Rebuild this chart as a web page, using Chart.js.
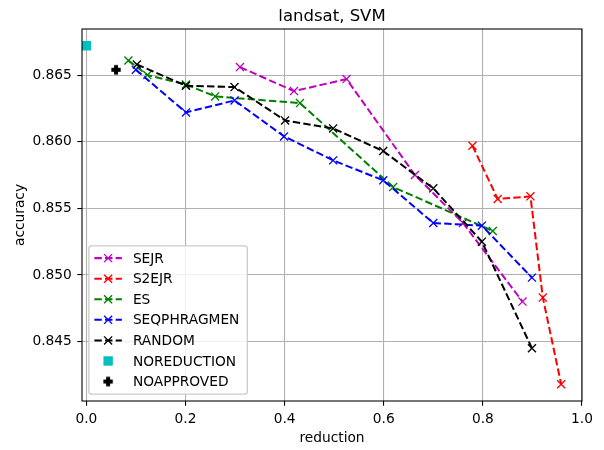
<!DOCTYPE html>
<html><head><meta charset="utf-8">
<script src="https://cdn.jsdelivr.net/npm/chart.js@4.4.1/dist/chart.umd.min.js"></script>
<style>html,body{margin:0;padding:0;background:#fff;}canvas{display:block;}</style>
</head><body>
<canvas id="c" width="604" height="450"></canvas>
<script>
// ---- data ----
const sejrX = [0.310, 0.419, 0.525, 0.663, 0.760, 0.880];
const sejrY = [0.8656, 0.8638, 0.8647, 0.8575, 0.8539, 0.8480];
const s2ejrX = [0.779, 0.830, 0.896, 0.921, 0.958];
const s2ejrY = [0.8597, 0.8557, 0.8559, 0.8483, 0.8418];
const esX = [0.085, 0.123, 0.201, 0.260, 0.431, 0.619, 0.820];
const esY = [0.8661, 0.8650, 0.8643, 0.8634, 0.8629, 0.8566, 0.8533];
const seqX = [0.100, 0.201, 0.299, 0.399, 0.498, 0.599, 0.700, 0.798, 0.899];
const seqY = [0.8654, 0.8622, 0.8631, 0.8604, 0.8586, 0.8571, 0.8539, 0.8537, 0.8498];
const randX = [0.102, 0.201, 0.299, 0.401, 0.498, 0.599, 0.700, 0.798, 0.899];
const randY = [0.8658, 0.8642, 0.8641, 0.8616, 0.8610, 0.8593, 0.8565, 0.8525, 0.8445];
const noReductionX = [0.0];
const noReductionY = [0.8672];
const noApprovedX = [0.060];
const noApprovedY = [0.8654];
const seriesLabels = ['SEJR', 'S2EJR', 'ES', 'SEQPHRAGMEN', 'RANDOM', 'NOREDUCTION', 'NOAPPROVED'];
const xTicks = [0.0, 0.2, 0.4, 0.6, 0.8, 1.0];
const yTicks = [0.845, 0.850, 0.855, 0.860, 0.865];
const titleText = 'landsat, SVM';
const xTitle = 'reduction';
const yTitle = 'accuracy';

// ---- styles ----
const PT = 1.34;                      // px per point
const FS = 13.75;                     // tick / label / legend font
const TFS = 16.5;                     // title font
const LW = 1.5 * PT;
const DASH = [3.7 * 1.5 * PT, 1.6 * 1.5 * PT];
const MS = 6 * PT;                    // marker size
const MEW = 1.0 * PT;
const FAMILY = "'DejaVu Sans', sans-serif";

Chart.defaults.font.family = FAMILY;
Chart.defaults.color = '#000';

function pts(xs, ys) { return xs.map((x, i) => ({ x: x, y: ys[i] })); }

function makePlus(color) {
  const s = 14, c = document.createElement('canvas');
  c.width = s; c.height = s;
  const g = c.getContext('2d');
  const m = s / 2, a = MS / 2, h = a / 3;
  const p = [[-h,-a],[h,-a],[h,-h],[a,-h],[a,h],[h,h],[h,a],[-h,a],[-h,h],[-a,h],[-a,-h],[-h,-h]];
  g.beginPath();
  p.forEach((q, i) => { if (i === 0) g.moveTo(m + q[0], m + q[1]); else g.lineTo(m + q[0], m + q[1]); });
  g.closePath();
  g.fillStyle = color; g.fill();
  g.strokeStyle = color; g.lineWidth = MEW; g.lineJoin = 'miter'; g.stroke();
  return c;
}
const plusImg = makePlus('#000000');

function lineDs(label, color, xs, ys, idx) {
  return {
    label: label, data: pts(xs, ys), showLine: true,
    borderColor: color, backgroundColor: color, borderWidth: LW, borderDash: DASH,
    pointStyle: 'crossRot', pointRadius: (MS / 2) / Math.SQRT1_2, pointHoverRadius: (MS / 2) / Math.SQRT1_2,
    pointBorderWidth: MEW, pointBorderColor: color, pointBackgroundColor: color,
    order: -idx, mplKind: 'line'
  };
}

const datasets = [
  lineDs(seriesLabels[0], '#bf00bf', sejrX, sejrY, 0),
  lineDs(seriesLabels[1], '#ff0000', s2ejrX, s2ejrY, 1),
  lineDs(seriesLabels[2], '#008000', esX, esY, 2),
  lineDs(seriesLabels[3], '#0000ff', seqX, seqY, 3),
  lineDs(seriesLabels[4], '#000000', randX, randY, 4),
  {
    label: seriesLabels[5], data: pts(noReductionX, noReductionY), showLine: false,
    pointStyle: 'rect', pointRadius: (MS / 2) / Math.SQRT1_2, pointHoverRadius: (MS / 2) / Math.SQRT1_2,
    pointBorderWidth: MEW, pointBorderColor: '#00bfbf', pointBackgroundColor: '#00bfbf',
    backgroundColor: '#00bfbf', borderColor: '#00bfbf', order: -5, mplKind: 'square'
  },
  {
    label: seriesLabels[6], data: pts(noApprovedX, noApprovedY), showLine: false,
    pointStyle: plusImg, pointRadius: 5, pointHoverRadius: 5,
    backgroundColor: '#000', borderColor: '#000', order: -6, mplKind: 'plus'
  }
];

// frame (all four spines) + axes title centred over the plot area
const framePlugin = {
  id: 'frame',
  afterDatasetsDraw(chart) {
    const a = chart.chartArea, ctx = chart.ctx;
    ctx.save();
    ctx.strokeStyle = '#000'; ctx.lineWidth = 0.8 * PT;
    ctx.strokeRect(a.left, a.top, a.right - a.left, a.bottom - a.top);
    ctx.fillStyle = '#000';
    ctx.font = TFS + 'px ' + FAMILY;
    ctx.textAlign = 'center'; ctx.textBaseline = 'alphabetic';
    ctx.fillText(titleText, (a.left + a.right) / 2, a.top - 6 * PT - 0.3);
    ctx.restore();
  }
};

// matplotlib-like legend in lower left of the axes
const legendPlugin = {
  id: 'mplLegend',
  afterDraw(chart) {
    const a = chart.chartArea, ctx = chart.ctx;
    const bx = a.left + 0.5 * FS, bw = 158.4, bh = 148.3, by = a.bottom - 0.5 * FS - bh, r = 0.2 * FS;
    ctx.save();
    ctx.beginPath();
    ctx.moveTo(bx + r, by);
    ctx.lineTo(bx + bw - r, by); ctx.quadraticCurveTo(bx + bw, by, bx + bw, by + r);
    ctx.lineTo(bx + bw, by + bh - r); ctx.quadraticCurveTo(bx + bw, by + bh, bx + bw - r, by + bh);
    ctx.lineTo(bx + r, by + bh); ctx.quadraticCurveTo(bx, by + bh, bx, by + bh - r);
    ctx.lineTo(bx, by + r); ctx.quadraticCurveTo(bx, by, bx + r, by);
    ctx.closePath();
    ctx.fillStyle = 'rgba(255,255,255,0.8)'; ctx.fill();
    ctx.strokeStyle = '#cccccc'; ctx.lineWidth = 1.0 * PT; ctx.stroke();

    const hx0 = bx + 0.4 * FS, hx1 = hx0 + 2.0 * FS, hc = (hx0 + hx1) / 2, tx = hx1 + 0.8 * FS;
    const y0 = by + 12.3, step = 20.57;
    ctx.font = FS + 'px ' + FAMILY;
    ctx.textBaseline = 'middle'; ctx.textAlign = 'left';
    chart.data.datasets.forEach((ds, i) => {
      const cy = y0 + i * step;
      if (ds.mplKind === 'line') {
        ctx.save();
        ctx.strokeStyle = ds.borderColor; ctx.lineWidth = LW; ctx.setLineDash(DASH); ctx.lineCap = 'butt';
        ctx.beginPath(); ctx.moveTo(hx0, cy); ctx.lineTo(hx1, cy); ctx.stroke();
        ctx.setLineDash([]);
        const m = MS / 2;
        ctx.lineWidth = MEW;
        ctx.beginPath();
        ctx.moveTo(hc - m, cy - m); ctx.lineTo(hc + m, cy + m);
        ctx.moveTo(hc - m, cy + m); ctx.lineTo(hc + m, cy - m);
        ctx.stroke();
        ctx.restore();
      } else if (ds.mplKind === 'square') {
        const m = MS / 2;
        ctx.fillStyle = ds.pointBackgroundColor;
        ctx.fillRect(hc - m, cy - m, MS, MS);
        ctx.strokeStyle = ds.pointBorderColor; ctx.lineWidth = MEW;
        ctx.strokeRect(hc - m, cy - m, MS, MS);
      } else if (ds.mplKind === 'plus') {
        ctx.drawImage(plusImg, hc - plusImg.width / 2, cy - plusImg.height / 2);
      }
      ctx.fillStyle = '#000';
      ctx.fillText(ds.label, tx, cy + 1);
    });
    ctx.restore();
  }
};

new Chart(document.getElementById('c'), {
  type: 'scatter',
  data: { datasets: datasets },
  plugins: [framePlugin, legendPlugin],
  options: {
    responsive: false, animation: false, events: [], devicePixelRatio: 1,
    layout: { padding: { left: 0, right: 22, top: 29, bottom: 0 } },
    plugins: {
      legend: { display: false },
      tooltip: { enabled: false },
      title: { display: false }
    },
    scales: {
      x: {
        type: 'linear', position: 'bottom', min: -0.0087, max: 1.0,
        afterBuildTicks: (s) => { s.ticks = xTicks.map(v => ({ value: v })); },
        afterFit: (s) => { s.height = 49; },
        ticks: { font: { size: FS }, color: '#000', padding: 5.5, maxRotation: 0,
                 callback: (v) => Number(v).toFixed(1) },
        grid: { color: '#b0b0b0', lineWidth: 0.8 * PT, tickColor: '#000', tickLength: 3.5 * PT, drawTicks: true },
        border: { display: false },
        title: { display: true, text: xTitle, font: { size: FS }, color: '#000', padding: { top: 0, bottom: 3.8 } }
      },
      y: {
        type: 'linear', position: 'left', min: 0.84054, max: 0.86846,
        afterBuildTicks: (s) => { s.ticks = yTicks.map(v => ({ value: v })); },
        afterFit: (s) => { s.width = 82; },
        ticks: { font: { size: FS }, color: '#000', padding: 5.5,
                 callback: (v) => Number(v).toFixed(3) },
        grid: { color: '#b0b0b0', lineWidth: 0.8 * PT, tickColor: '#000', tickLength: 3.5 * PT, drawTicks: true },
        border: { display: false },
        title: { display: true, text: yTitle, font: { size: FS }, color: '#000', padding: { top: 12.5, bottom: 0 } }
      }
    }
  }
});
</script>
</body></html>
